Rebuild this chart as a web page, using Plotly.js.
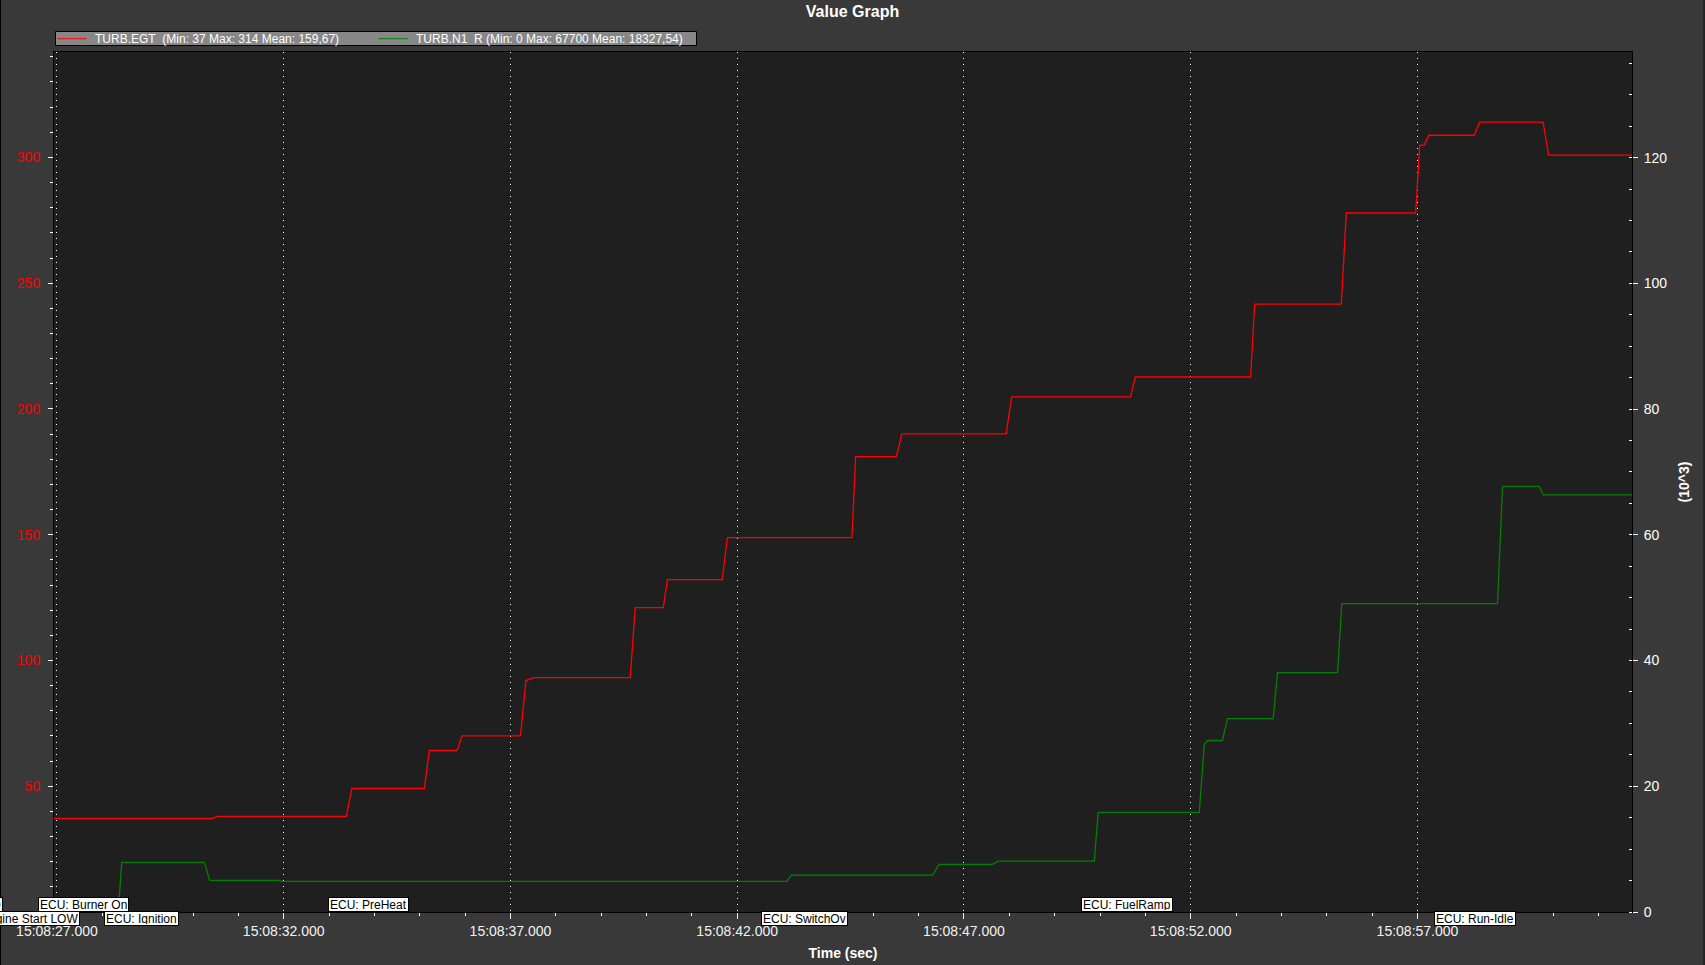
<!DOCTYPE html>
<html>
<head>
<meta charset="utf-8">
<script src="https://cdn.plot.ly/plotly-3.0.1.min.js"></script>
<style>
  html, body { margin: 0; padding: 0; background: #393939; }
  #chart { width: 1705px; height: 965px; }
</style>
</head>
<body>
<div id="chart"></div>
<script>
// ---- Data ----
// Time stamps: seconds after 15:08:00
const egtTime = [26.934, 30.44, 30.53, 33.38, 33.50, 35.10, 35.21, 35.82, 35.93, 37.22, 37.34, 37.52,
  39.64, 39.75, 40.37, 40.46, 41.67, 41.78, 44.53, 44.61, 45.51, 45.63, 47.93, 48.05, 50.67, 50.78,
  53.32, 53.41, 55.32, 55.43, 56.96, 57.05, 57.15, 57.25, 58.25, 58.37, 59.77, 59.89, 61.73];
const egtValue = [37.2, 37.2, 38.0, 38.0, 49.1, 49.1, 64.2, 64.2, 70.0, 70.0, 92.0, 93.2,
  93.2, 121.0, 121.0, 132.1, 132.1, 148.8, 148.8, 181.0, 181.0, 190.1, 190.1, 204.8, 204.8, 212.7,
  212.7, 241.7, 241.7, 277.9, 277.9, 304.9, 304.9, 308.8, 308.8, 314.0, 314.0, 300.9, 300.9];

const n1Time = [26.934, 28.352, 28.427, 30.252, 30.367, 31.909, 31.961, 43.097, 43.192, 46.307,
  46.449, 47.628, 47.754, 49.873, 49.959, 52.188, 52.299, 52.378, 52.700, 52.810, 53.818, 53.913,
  55.236, 55.331, 58.764, 58.875, 59.686, 59.772, 61.73];
const n1Value = [0, 0, 7900, 7900, 5040, 5040, 4880, 4880, 5850, 5850,
  7580, 7580, 8100, 8100, 15840, 15840, 26690, 27280, 27280, 30770, 30770, 38080,
  38080, 49040, 49040, 67700, 67700, 66360, 66360];

const seriesNames = [
  'TURB.EGT\u00a0 (Min: 37 Max: 314 Mean: 159,67)',
  'TURB.N1\u00a0 R (Min: 0 Max: 67700 Mean: 18327,54)'
];
const seriesColors = ['#ff0000', '#008000'];

// Event labels: text, time (s after 15:08:00) of the label edge, row
const eventText = ['ECU: Burner On', 'ECU: Ignition', 'Engine Start LOW', 'ECU: PreHeat',
  'ECU: SwitchOv', 'ECU: FuelRamp', 'ECU: Run-Idle'];
const eventTime = [28.594, 28.036, 27.516, 32.985, 42.517, 49.571, 57.357];
const eventAnchor = ['right', 'left', 'right', 'left', 'left', 'left', 'left'];
const eventRow = [1, 2, 2, 1, 2, 1, 2];

const leftTicks = [50, 100, 150, 200, 250, 300];
const rightTicks = [0, 20, 40, 60, 80, 100, 120];

// ---- helpers ----
function toDate(sec) {
  const m = Math.floor(sec / 60);
  const s = sec - 60 * m;
  const ss = s.toFixed(3).padStart(6, '0');
  return '2000-01-01 15:' + String(8 + m).padStart(2, '0') + ':' + ss;
}
const ML = 54, MR = 73, MT = 52, MB = 53, W = 1705, H = 965;
const PW = W - ML - MR, PH = H - MT - MB;
const px = x => (x - ML) / PW;          // page pixel -> paper x
const py = y => (H - MB - y) / PH;      // page pixel -> paper y

const FONT = 'Liberation Sans, Arial, sans-serif';
const xRange = [toDate(26.934), toDate(61.73)];

const traces = [
  {
    x: egtTime.map(toDate), y: egtValue, name: seriesNames[0],
    type: 'scatter', mode: 'lines', yaxis: 'y',
    line: { color: seriesColors[0], width: 1.3 }
  },
  {
    x: n1Time.map(toDate), y: n1Value.map(v => v / 1000), name: seriesNames[1],
    type: 'scatter', mode: 'lines', yaxis: 'y2',
    line: { color: seriesColors[1], width: 1.3 }
  }
];

const boxStyle = {
  showarrow: false,
  font: { family: FONT, size: 12, color: '#000000' },
  bgcolor: '#ffffff', bordercolor: '#000000', borderwidth: 1, borderpad: 1,
  height: 11
};
const annotations = eventText.map((t, i) => Object.assign({
  text: t,
  xref: 'x', yref: 'paper',
  x: toDate(eventTime[i]), y: 0,
  xanchor: eventAnchor[i],
  yanchor: eventRow[i] === 1 ? 'bottom' : 'top',
  yshift: eventRow[i] === 1 ? 0 : 1
}, boxStyle));
// partially visible label at far left
annotations.push(Object.assign({
  text: '0', xref: 'paper', yref: 'paper', x: px(3), y: 0,
  xanchor: 'right', yanchor: 'bottom'
}, boxStyle));

// legend (drawn as a compact box like the reference)
const legendItemX = [57.5, 378.8];
const legendY = 38.7;
seriesNames.forEach((n, i) => {
  annotations.push({
    text: n, xref: 'paper', yref: 'paper', x: px(legendItemX[i] + 35), y: py(legendY),
    xanchor: 'left', yanchor: 'middle', showarrow: false,
    font: { family: FONT, size: 12, color: '#ffffff' }
  });
});

const shapes = [
  { type: 'rect', xref: 'paper', yref: 'paper', x0: px(55.5), x1: px(696.5), y0: py(45.5), y1: py(31.5),
    fillcolor: '#878787', line: { color: '#000000', width: 1 }, layer: 'above' },
  { type: 'line', xref: 'paper', yref: 'paper', x0: px(0.5), x1: px(0.5), y0: py(H), y1: py(0),
    line: { color: '#000000', width: 1 } },
  { type: 'line', xref: 'paper', yref: 'paper', x0: px(1704), x1: px(1704), y0: py(H), y1: py(0),
    line: { color: '#111111', width: 1 } }
];
seriesColors.forEach((c, i) => {
  shapes.push({ type: 'line', xref: 'paper', yref: 'paper',
    x0: px(legendItemX[i]), x1: px(legendItemX[i] + 29), y0: py(legendY), y1: py(legendY),
    line: { color: c, width: 1 }, layer: 'above' });
});

const layout = {
  width: W, height: H,
  paper_bgcolor: '#393939',
  plot_bgcolor: '#1f1f1f',
  margin: { l: ML, r: MR, t: MT, b: MB, pad: 0 },
  font: { family: FONT, color: '#ffffff', size: 14 },
  title: {
    text: 'Value Graph', x: 0.5, xref: 'container', xanchor: 'center',
    y: 1 - 11 / H, yref: 'container', yanchor: 'middle',
    font: { family: FONT, size: 16, color: '#ffffff', weight: 'bold' }
  },
  showlegend: false,
  xaxis: {
    type: 'date', range: xRange, autorange: false,
    tick0: toDate(27), dtick: 5000, tickformat: '%H:%M:%S.%L',
    showgrid: true, gridcolor: '#ffffff', gridwidth: 1, griddash: '1px,5px',
    ticks: 'outside', ticklen: 6, tickcolor: '#ffffff', tickwidth: 1,
    minor: { dtick: 1000, tick0: toDate(27), ticks: 'outside', ticklen: 3, tickcolor: '#ffffff', showgrid: false },
    showline: true, linecolor: '#000000', linewidth: 1, mirror: true,
    zeroline: false,
    tickfont: { family: FONT, size: 14, color: '#f2f2f2' },
    ticklabelstandoff: 0,
    title: { text: 'Time (sec)', standoff: 10, font: { family: FONT, size: 14, color: '#ffffff', weight: 'bold' } }
  },
  xaxis2: {
    type: 'date', range: xRange, autorange: false, overlaying: 'x', anchor: 'y', side: 'top',
    tick0: toDate(27), dtick: 1000, ticks: 'inside', ticklen: 4, tickcolor: '#ffffff',
    showticklabels: false, showgrid: false, showline: false, zeroline: false
  },
  yaxis: {
    range: [0, 341.9], autorange: false,
    tickvals: leftTicks, ticks: 'outside', ticklen: 5, tickcolor: '#ffffff',
    minor: { dtick: 10, ticks: 'outside', ticklen: 3, tickcolor: '#ffffff', showgrid: false },
    showgrid: false, zeroline: false,
    showline: true, linecolor: '#000000', linewidth: 1,
    tickfont: { family: FONT, size: 14, color: '#ff0000' },
    ticklabelstandoff: 5
  },
  yaxis2: {
    range: [0, 136.8], autorange: false, overlaying: 'y', side: 'right', anchor: 'x',
    tickvals: rightTicks, ticks: 'outside', ticklen: 5, tickcolor: '#ffffff',
    minor: { dtick: 5, ticks: 'inside', ticklen: 3, tickcolor: '#ffffff', showgrid: false },
    showgrid: false, zeroline: false,
    showline: true, linecolor: '#000000', linewidth: 1,
    tickfont: { family: FONT, size: 14, color: '#ffffff' },
    ticklabelstandoff: 3,
    title: { text: '(10^3)', standoff: 12, font: { family: FONT, size: 14, color: '#ffffff', weight: 'bold' } }
  },
  annotations: annotations,
  shapes: shapes
};

Plotly.newPlot('chart', traces, layout, { displayModeBar: false, responsive: false });
</script>
</body>
</html>
